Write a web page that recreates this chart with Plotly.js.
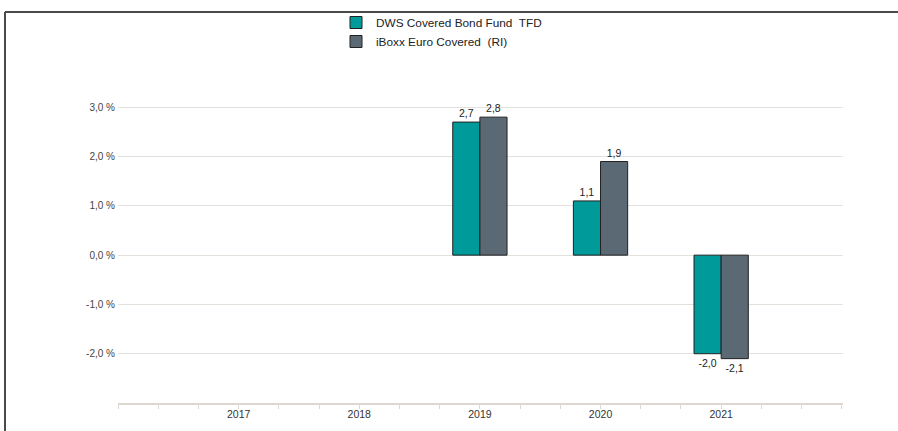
<!DOCTYPE html>
<html>
<head>
<meta charset="utf-8">
<script src="https://cdn.plot.ly/plotly-3.0.1.min.js"></script>
<style>
  html, body { margin: 0; padding: 0; background: #ffffff; }
  #chart { width: 898px; height: 431px; }
</style>
</head>
<body>
<div id="chart"></div>
<script>
// Data
const years = [2017, 2018, 2019, 2020, 2021];
const yearLabels = ['2017', '2018', '2019', '2020', '2021'];
const fundValues = [null, null, 2.7, 1.1, -2.0];
const indexValues = [null, null, 2.8, 1.9, -2.1];
const seriesNames = ['DWS Covered Bond Fund  TFD', 'iBoxx Euro Covered  (RI)'];
const yTickValues = [-2, -1, 0, 1, 2, 3, 4];
const yTickLabels = ['-2,0 %', '-1,0 %', '0,0 %', '1,0 %', '2,0 %', '3,0 %', ''];

function fmt(v) { return v === null ? '' : v.toFixed(1).replace('.', ','); }

const textFont = { family: 'Liberation Sans, Arial, sans-serif', size: 10.5, color: '#222222' };

const traces = [
  {
    type: 'bar', name: seriesNames[0], x: years, y: fundValues,
    text: fundValues.map(fmt), textposition: 'outside', textfont: textFont,
    cliponaxis: false,
    marker: { color: '#009a9b', line: { color: '#222222', width: 1 } },
    hoverinfo: 'skip'
  },
  {
    type: 'bar', name: seriesNames[1], x: years, y: indexValues,
    text: indexValues.map(fmt), textposition: 'outside', textfont: textFont,
    cliponaxis: false,
    marker: { color: '#5b6975', line: { color: '#222222', width: 1 } },
    hoverinfo: 'skip'
  }
];

const L = 118, R = 55, T = 58, B = 28;
const PW = 898 - L - R, PH = 431 - T - B;

const layout = {
  width: 898, height: 431,
  margin: { l: L, r: R, t: T, b: B, autoexpand: false },
  paper_bgcolor: '#ffffff', plot_bgcolor: '#ffffff',
  font: { family: 'Liberation Sans, Arial, sans-serif', size: 10, color: '#444444' },
  barmode: 'group', bargap: 0.55, bargroupgap: 0,
  showlegend: true,
  legend: {
    orientation: 'v', x: (336 - L) / PW, xanchor: 'left', y: 1 + (T - 8) / PH, yanchor: 'top',
    font: { size: 11.8, color: '#222222' }, bgcolor: 'rgba(0,0,0,0)',
    itemwidth: 30, traceorder: 'normal'
  },
  xaxis: {
    type: 'linear', range: [2016, 2022.01], fixedrange: true,
    tickmode: 'array', tickvals: years, ticktext: yearLabels,
    ticks: '', showgrid: false, zeroline: false,
    showline: true, linecolor: '#dcd8cf', linewidth: 2,
    tickfont: { size: 10.5, color: '#333333' },
    minor: { tick0: 2016, dtick: 1/3, ticks: 'outside', ticklen: 4, tickcolor: '#dcd8cf', tickwidth: 1, showgrid: false }
  },
  yaxis: {
    range: [-3, 4], fixedrange: true,
    tickmode: 'array', tickvals: yTickValues, ticktext: yTickLabels,
    showgrid: true, gridcolor: '#e3e1db', gridwidth: 1,
    zeroline: false, showline: false, ticks: '', ticklabelstandoff: 2,
    tickfont: { size: 10, color: '#444444' }
  },
  shapes: [
    { type: 'line', xref: 'paper', yref: 'paper', x0: (5 - L) / PW, x1: (898 - L) / PW,
      y0: 1 + (T - 12) / PH, y1: 1 + (T - 12) / PH, line: { color: '#4a4a4a', width: 2 } },
    { type: 'line', xref: 'paper', yref: 'paper', x0: (5 - L) / PW, x1: (5 - L) / PW,
      y0: 1 + (T - 12) / PH, y1: -B / PH, line: { color: '#4a4a4a', width: 2 } }
  ]
};

Plotly.newPlot('chart', traces, layout, { displayModeBar: false, staticPlot: true });
</script>
</body>
</html>
